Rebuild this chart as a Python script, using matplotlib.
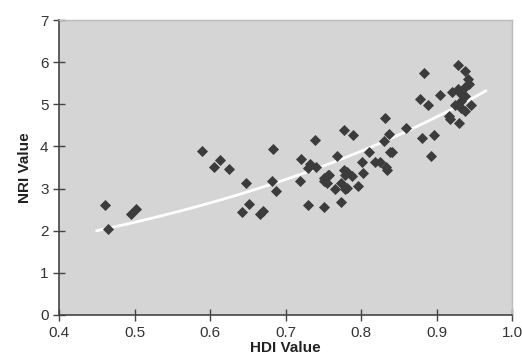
import numpy as np
import matplotlib
matplotlib.use("Agg")
import matplotlib.pyplot as plt

plt.rcParams['font.family'] = ['Liberation Sans', 'DejaVu Sans']

# HDI (x) and NRI (y)
hdi = [0.461, 0.465, 0.495, 0.502, 0.589, 0.605, 0.613, 0.625, 0.642, 0.647,
       0.652, 0.666, 0.670, 0.682, 0.684, 0.687, 0.719, 0.721, 0.730, 0.730,
       0.732, 0.739, 0.741, 0.751, 0.751, 0.751, 0.755, 0.756, 0.758, 0.766,
       0.768, 0.773, 0.774, 0.777, 0.777, 0.779, 0.779, 0.781, 0.781, 0.788,
       0.789, 0.796, 0.801, 0.802, 0.811, 0.818, 0.825, 0.830, 0.832, 0.833,
       0.834, 0.837, 0.838, 0.841, 0.860, 0.878, 0.881, 0.883, 0.888, 0.892,
       0.896, 0.905, 0.916, 0.918, 0.920, 0.924, 0.928, 0.929, 0.930, 0.932,
       0.932, 0.932, 0.937, 0.937, 0.938, 0.938, 0.941, 0.943, 0.945]
nri = [2.62, 2.05, 2.40, 2.52, 3.88, 3.50, 3.67, 3.47, 2.45, 3.12,
       2.64, 2.40, 2.47, 3.17, 3.93, 2.95, 3.17, 3.71, 3.48, 2.62,
       3.57, 4.16, 3.52, 2.55, 3.26, 3.17, 3.14, 3.33, 3.31, 2.98,
       3.78, 2.67, 3.12, 4.38, 3.43, 3.33, 2.98, 3.38, 3.02, 3.29,
       4.28, 3.05, 3.64, 3.36, 3.86, 3.62, 3.64, 4.13, 4.68, 3.52,
       3.43, 4.30, 3.86, 3.86, 4.43, 5.12, 4.21, 5.74, 4.98, 3.77,
       4.28, 5.21, 4.71, 4.64, 5.29, 4.98, 5.36, 5.93, 4.56, 5.24,
       4.92, 5.08, 5.20, 4.83, 5.80, 5.42, 5.60, 5.49, 4.98]

# exponential trend line y = a * exp(b * x)
trend_a = 0.85
trend_b = 1.90
trend_range = [0.45, 0.965]

x_ticks = [0.4, 0.5, 0.6, 0.7, 0.8, 0.9, 1.0]
y_ticks = [0, 1, 2, 3, 4, 5, 6, 7]

fig = plt.figure(figsize=(5.22, 3.64), dpi=100)
ax = fig.add_axes([0.113, 0.135, 0.868, 0.81])
ax.set_facecolor('#d5d5d5')

ax.scatter(hdi, nri, marker='D', s=32, color='#3c3c3c', linewidths=0, zorder=3)

xs = np.linspace(trend_range[0], trend_range[1], 100)
ax.plot(xs, trend_a * np.exp(trend_b * xs), color='white', lw=2, zorder=2)

ax.set_xlim(0.4, 1.0)
ax.set_ylim(0, 7)
ax.set_xticks(x_ticks)
ax.set_xticklabels(['%.1f' % t for t in x_ticks])
ax.set_yticks(y_ticks)
ax.tick_params(direction='inout', length=8, width=1, color='#444444',
               labelsize=11, labelcolor='#333333')
ax.tick_params(axis='x', pad=4)

for s in ['left', 'bottom']:
    ax.spines[s].set_color('#444444')
    ax.spines[s].set_linewidth(1.2)
for s in ['top', 'right']:
    ax.spines[s].set_color('#bbbbbb')
    ax.spines[s].set_linewidth(1)

ax.set_xlabel('HDI Value', fontsize=11, fontweight='bold', color='#222222', labelpad=1)
ax.set_ylabel('NRI Value', fontsize=11, fontweight='bold', color='#222222', labelpad=6)

fig.savefig('out.png', dpi=100)
